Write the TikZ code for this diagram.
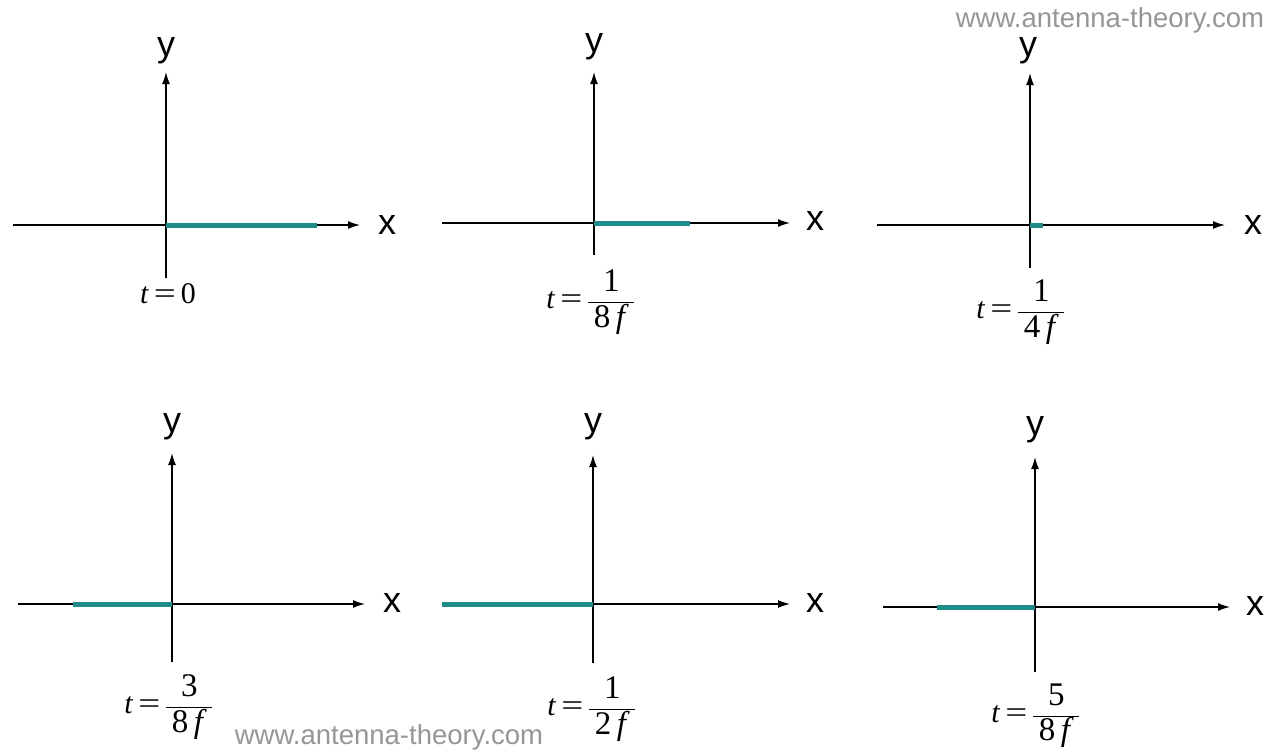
\documentclass[tikz,border=0pt]{standalone}
\usepackage{fontspec}
\setmainfont{Liberation Serif}
\setsansfont{Liberation Sans}
\usetikzlibrary{arrows.meta}
\definecolor{tealline}{RGB}{32,140,138}
\definecolor{wmgray}{RGB}{150,150,150}
\newcommand{\eqsign}{\,\scalebox{1.3}[1]{=}\,}
\newcommand{\fraclab}[2]{\textit{t}\eqsign\(\displaystyle\frac{\mbox{\fontsize{33}{36}\selectfont #1}}{\mbox{\fontsize{33}{36}\selectfont\,#2\,\textit{f}\,}}\)}
\tikzset{
  axisline/.style={line width=1.4pt, black, -{Latex[length=12pt,width=8pt]}},
  wave/.style={line width=5pt, tealline},
  axlabel/.style={font=\sffamily\fontsize{36}{40}\selectfont, inner sep=0pt},
  tlabel/.style={font=\fontsize{30}{34}\selectfont, inner sep=0pt},
  watermark/.style={font=\sffamily\fontsize{27.5}{30}\selectfont, text=wmgray, inner sep=0pt}
}
\begin{document}
\begin{tikzpicture}[x=1pt,y=-1pt]
\useasboundingbox[fill=white] (0,0) rectangle (1273,750);

% Panel 1: t = 0
\coordinate (o1) at (166,225);
\coordinate (l1) at (13,225);
\coordinate (r1) at (360,225);
\coordinate (b1) at (166,278);
\coordinate (t1) at (166,72);
\coordinate (e1) at (317,225);
\draw[axisline] (l1) -- (r1);
\draw[axisline] (b1) -- (t1);
\draw[wave] (o1) -- (e1);
\node[axlabel] (x1) at (387,225) {x};
\node[axlabel] (y1) at (166,51) {y};
\node[tlabel] (lab1) at (168,294) {\textit{t}\eqsign 0};

% Panel 2: t = 1/(8f)
\coordinate (o2) at (594,223);
\coordinate (l2) at (442,223);
\coordinate (r2) at (790,223);
\coordinate (b2) at (594,255);
\coordinate (t2) at (594,72);
\coordinate (e2) at (690,223);
\draw[axisline] (l2) -- (r2);
\draw[axisline] (b2) -- (t2);
\draw[wave] (o2) -- (e2);
\node[axlabel] (x2) at (815,221) {x};
\node[axlabel] (y2) at (594,47) {y};
\node[tlabel] (lab2) at (591,302) {\fraclab{1}{8}};

% Panel 3: t = 1/(4f)
\coordinate (o3) at (1030,225);
\coordinate (l3) at (877,225);
\coordinate (r3) at (1225,225);
\coordinate (b3) at (1030,268);
\coordinate (t3) at (1030,73);
\coordinate (e3) at (1043,225);
\draw[axisline] (l3) -- (r3);
\draw[axisline] (b3) -- (t3);
\draw[wave] (o3) -- (e3);
\node[axlabel] (x3) at (1253,225) {x};
\node[axlabel] (y3) at (1028,51) {y};
\node[tlabel] (lab3) at (1021,312) {\fraclab{1}{4}};

% Panel 4: t = 3/(8f)
\coordinate (o4) at (172,604);
\coordinate (l4) at (18,604);
\coordinate (r4) at (365,604);
\coordinate (b4) at (172,662);
\coordinate (t4) at (172,453);
\coordinate (e4) at (73,604);
\draw[axisline] (l4) -- (r4);
\draw[axisline] (b4) -- (t4);
\draw[wave] (e4) -- (o4);
\node[axlabel] (x4) at (392,603) {x};
\node[axlabel] (y4) at (172,427) {y};
\node[tlabel] (lab4) at (169,707) {\fraclab{3}{8}};

% Panel 5: t = 1/(2f)
\coordinate (o5) at (593,604);
\coordinate (l5) at (442,604);
\coordinate (r5) at (790,604);
\coordinate (b5) at (593,663);
\coordinate (t5) at (593,455);
\draw[axisline] (l5) -- (r5);
\draw[axisline] (b5) -- (t5);
\draw[wave] (l5) -- (o5);
\node[axlabel] (x5) at (815,603) {x};
\node[axlabel] (y5) at (593,427) {y};
\node[tlabel] (lab5) at (592,709) {\fraclab{1}{2}};

% Panel 6: t = 5/(8f)
\coordinate (o6) at (1035,607);
\coordinate (l6) at (883,607);
\coordinate (r6) at (1230,607);
\coordinate (b6) at (1035,672);
\coordinate (t6) at (1035,457);
\coordinate (e6) at (937,607);
\draw[axisline] (l6) -- (r6);
\draw[axisline] (b6) -- (t6);
\draw[wave] (e6) -- (o6);
\node[axlabel] (x6) at (1255,606) {x};
\node[axlabel] (y6) at (1035,430) {y};
\node[tlabel] (lab6) at (1036,716) {\fraclab{5}{8}};

% Watermarks
\node[watermark] (wm1) at (1110,20) {www.antenna-theory.com};
\node[watermark] (wm2) at (389,737) {www.antenna-theory.com};
\end{tikzpicture}
\end{document}
